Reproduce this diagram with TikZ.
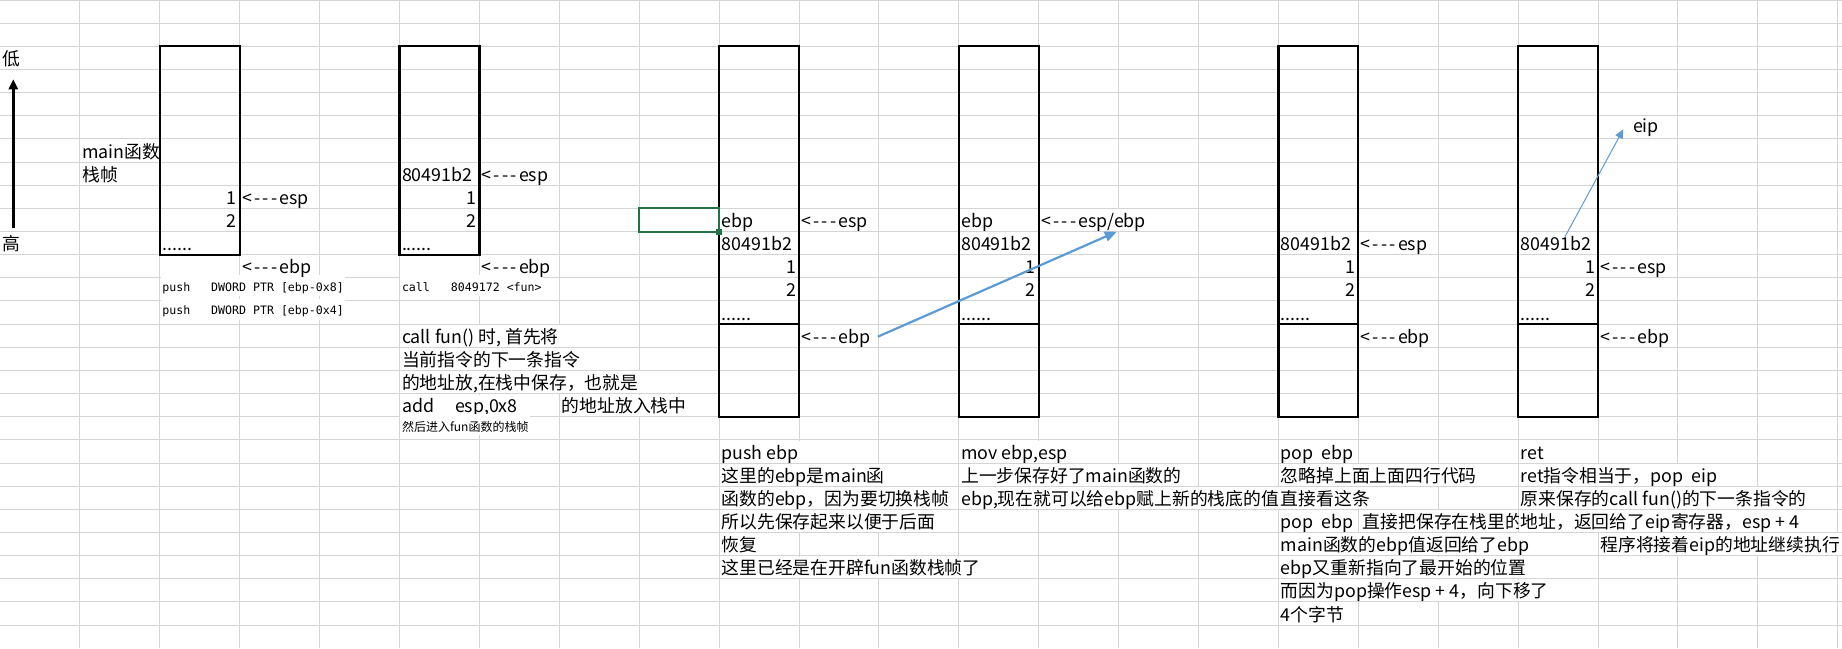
\documentclass[tikz,border=0pt]{standalone}
\usepackage{fontspec}
\setmainfont{Noto Sans CJK SC}
\newfontfamily\monofont{DejaVu Sans Mono}
\usetikzlibrary{arrows.meta}
\definecolor{gridgray}{HTML}{D4D4D4}
\definecolor{arrowblue}{HTML}{5B9BD5}
\definecolor{selgreen}{HTML}{217346}
\newcommand\ptr[1]{<\kern1.1pt-\kern1.1pt-\kern1.1pt-\kern1.1pt#1}
\tikzset{
  txt/.style={anchor=base west, inner xsep=0.8pt, inner ysep=0pt, text height=9.1pt, text depth=1.75pt,
    fill=white, xshift=0.25pt, yshift=2pt, font=\fontsize{8.9pt}{10pt}\selectfont},
  num/.style={txt, anchor=base east, xshift=-0.25pt, inner xsep=1.35pt},
  code/.style={txt, text height=8pt, text depth=2.5pt, yshift=2.75pt, font=\monofont\fontsize{5.8pt}{7pt}\selectfont},
  note/.style={txt, text height=8.6pt, text depth=2.15pt, yshift=2.4pt, font=\fontsize{6pt}{7pt}\selectfont},
  stackbox/.style={draw=black, line width=1.1pt},
}
\begin{document}
\begin{tikzpicture}[x=39.95pt, y=-11.575pt]
\useasboundingbox (0pt,0pt) rectangle (921pt,-324pt);
\clip (0pt,0pt) rectangle (921pt,-324pt);

\foreach \i in {1,...,23} \draw[gridgray, line width=0.5pt] (\i,0) -- (\i,28);
\foreach \j in {0,...,27} \draw[gridgray, line width=0.5pt] (0,\j) -- (23.1,\j);

\node[txt] (di) at (0,3) {低};
\node[txt] (gao) at (0,11) {高};
\node[txt] (mainlbl) at (1,7) {main函数};
\node[txt] (framelbl) at (1,8) {栈帧};

\node[code] (s1codea) at (2,13) {push\ \ \ DWORD PTR [ebp-0x8]};
\node[code] (s1codeb) at (2,14) {push\ \ \ DWORD PTR [ebp-0x4]};
\node[num] (s1one) at (3,9) {1};
\node[num] (s1two) at (3,10) {2};
\node[txt] (s1dots) at (2,11) {......};
\node[txt] (s1esp) at (3,9) {\ptr{esp}};
\node[txt] (s1ebp) at (3,12) {\ptr{ebp}};

\node[code] (s2code) at (5,13) {call\ \ \ 8049172 <fun>};
\node[txt] (s2ret) at (5,8) {80491b2};
\node[txt] (s2esp) at (6,8) {\ptr{esp}};
\node[num] (s2one) at (6,9) {1};
\node[num] (s2two) at (6,10) {2};
\node[txt] (s2dots) at (5,11) {......};
\node[txt] (s2ebp) at (6,12) {\ptr{ebp}};
\node[txt] (s2la) at (5,15) {call fun() 时, 首先将};
\node[txt] (s2lb) at (5,16) {当前指令的下一条指令};
\node[txt] (s2lc) at (5,17) {的地址放,在栈中保存，也就是};
\node[txt] (s2ld) at (5,18) {add\hspace{10.5pt}esp,0x8};
\node[txt] (s2le) at (7,18) {的地址放入栈中};
\node[note] (s2lf) at (5,19) {然后进入fun函数的栈帧};

\node[txt] (s3ebp) at (9,10) {ebp};
\node[txt] (s3esp) at (10,10) {\ptr{esp}};
\node[txt] (s3ret) at (9,11) {80491b2};
\node[num] (s3one) at (10,12) {1};
\node[num] (s3two) at (10,13) {2};
\node[txt] (s3dots) at (9,14) {......};
\node[txt] (s3old) at (10,15) {\ptr{ebp}};
\node[txt] (s3la) at (9,20) {push ebp};
\node[txt] (s3lb) at (9,21) {这里的ebp是main函};
\node[txt] (s3lc) at (9,22) {函数的ebp，因为要切换栈帧};
\node[txt] (s3ld) at (9,23) {所以先保存起来以便于后面};
\node[txt] (s3le) at (9,24) {恢复};
\node[txt] (s3lf) at (9,25) {这里已经是在开辟fun函数栈帧了};

\node[txt] (s4ebp) at (12,10) {ebp};
\node[txt] (s4esp) at (13,10) {\ptr{esp/ebp}};
\node[txt] (s4ret) at (12,11) {80491b2};
\node[num] (s4one) at (13,12) {1};
\node[num] (s4two) at (13,13) {2};
\node[txt] (s4dots) at (12,14) {......};
\node[txt] (s4la) at (12,20) {mov ebp,esp};
\node[txt] (s4lb) at (12,21) {上一步保存好了main函数的};
\node[txt] (s4lc) at (12,22) {ebp,现在就可以给ebp赋上新的栈底的值};

\node[txt] (s5ret) at (16,11) {80491b2};
\node[txt] (s5esp) at (17,11) {\ptr{esp}};
\node[num] (s5one) at (17,12) {1};
\node[num] (s5two) at (17,13) {2};
\node[txt] (s5dots) at (16,14) {......};
\node[txt] (s5ebp) at (17,15) {\ptr{ebp}};
\node[txt] (s5la) at (16,20) {pop\ \ ebp};
\node[txt] (s5lb) at (16,21) {忽略掉上面上面四行代码};
\node[txt] (s5lc) at (16,22) {直接看这条};
\node[txt] (s5ld) at (16,23) {pop\ \ ebp};
\begin{scope}
\clip (17,22) rectangle (19,23);
\node[txt] (s5le) at (17,23) {\hspace{1pt}直接把保存在栈里的};
\end{scope}
\node[txt] (s5lf) at (16,24) {main函数的ebp值返回给了ebp};
\node[txt] (s5lg) at (16,25) {ebp又重新指向了最开始的位置};
\node[txt] (s5lh) at (16,26) {而因为pop操作esp + 4，向下移了};
\node[txt] (s5li) at (16,27) {4个字节};

\node[txt] (s6ret) at (19,11) {80491b2};
\node[num] (s6one) at (20,12) {1};
\node[txt] (s6esp) at (20,12) {\ptr{esp}};
\node[num] (s6two) at (20,13) {2};
\node[txt] (s6dots) at (19,14) {......};
\node[txt] (s6ebp) at (20,15) {\ptr{ebp}};
\node[txt] (s6la) at (19,20) {ret};
\node[txt] (s6lb) at (19,21) {ret指令相当于，pop\ \ eip};
\node[txt] (s6lc) at (19,22) {原来保存的call fun()的下一条指令的};
\node[txt] (s6ld) at (19,23) {地址，返回给了eip寄存器，esp + 4};
\node[txt] (s6le) at (20,24) {程序将接着eip的地址继续执行};
\node[txt, fill=none, xshift=0pt, yshift=0pt] (eip) at (815.3pt,-68pt) {eip};

\draw[stackbox] (2,2) rectangle (3,11);
\draw[stackbox] (5,2) rectangle (6,11);
\foreach \c in {9,12,16,19} {
  \draw[stackbox] (\c,2) rectangle (\c+1,18);
  \draw[stackbox] (\c,14) -- (\c+1,14);
}

\draw[selgreen, line width=1pt] (8,9) rectangle (9,10);
\fill[selgreen] (9,10) ++(-1.5pt,-1.5pt) rectangle ++(3pt,3pt);

\coordinate (high) at (6.65pt,-114.15pt);
\coordinate (low) at (6.65pt,-39.65pt);
\draw[line width=1.35pt, -{Triangle[length=5pt,width=4.5pt]}] (high) -- (low);

\coordinate (ebpfrom) at (438.9pt,-168.35pt);
\coordinate (ebpto) at (558.35pt,-115.85pt);
\draw[arrowblue, line width=1.1pt, -{Triangle[length=6pt,width=5pt]}] (ebpfrom) -- (ebpto);

\coordinate (retfrom) at (782.5pt,-118.35pt);
\coordinate (retto) at (811.65pt,-64.65pt);
\draw[arrowblue, line width=0.5pt, -{Triangle[length=4.5pt,width=4pt]}] (retfrom) -- (retto);
\end{tikzpicture}
\end{document}
